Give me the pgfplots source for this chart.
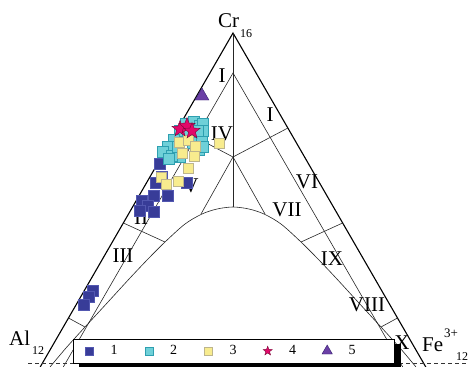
\documentclass[border=0pt]{standalone}
\usepackage{pgfplots}
\pgfplotsset{compat=1.18}
\usepackage{fontspec}
\setmainfont{Liberation Serif}

\definecolor{s1}{HTML}{383C98}
\definecolor{s1e}{HTML}{5257B0}
\definecolor{s2}{HTML}{6FD0D8}
\definecolor{s2e}{HTML}{2E9FB0}
\definecolor{s3}{HTML}{F8EC8E}
\definecolor{s3e}{HTML}{BDB58C}
\definecolor{s4}{HTML}{E2086A}
\definecolor{s4e}{HTML}{7A0838}
\definecolor{s5}{HTML}{6B40A6}
\definecolor{s5e}{HTML}{34206E}
\definecolor{ln}{HTML}{262626}

% filled five-pointed star
\pgfdeclareplotmark{fstar}{%
  \pgfpathmoveto{\pgfpointpolar{90}{\pgfplotmarksize}}%
  \pgfpathlineto{\pgfpointpolar{126}{0.42\pgfplotmarksize}}%
  \pgfpathlineto{\pgfpointpolar{162}{\pgfplotmarksize}}%
  \pgfpathlineto{\pgfpointpolar{198}{0.42\pgfplotmarksize}}%
  \pgfpathlineto{\pgfpointpolar{234}{\pgfplotmarksize}}%
  \pgfpathlineto{\pgfpointpolar{270}{0.42\pgfplotmarksize}}%
  \pgfpathlineto{\pgfpointpolar{306}{\pgfplotmarksize}}%
  \pgfpathlineto{\pgfpointpolar{342}{0.42\pgfplotmarksize}}%
  \pgfpathlineto{\pgfpointpolar{18}{\pgfplotmarksize}}%
  \pgfpathlineto{\pgfpointpolar{54}{0.42\pgfplotmarksize}}%
  \pgfpathclose
  \pgfusepathqfillstroke}

\newcommand\lab{\fontsize{21}{21}\selectfont}
\newcommand\sub{\fontsize{12}{12}\selectfont}

\begin{document}
\begin{tikzpicture}
\useasboundingbox (0,0) rectangle (469pt,367pt);
\begin{axis}[
  x=1pt, y=1pt, xmin=0, xmax=469, ymin=0, ymax=367, y dir=reverse,
  axis lines=none, clip=false,
  legend style={at={(axis cs:78,351)}, anchor=west, draw=none, fill=none,
    legend columns=-1, inner xsep=0pt, inner ysep=0pt,
    font=\fontsize{14}{14}\selectfont,
    /tikz/every even column/.append style={column sep=18pt}},
  legend image code/.code={\path[draw=none, fill=none] (-11pt,-4pt) rectangle (19.5pt,4pt);
    \draw[#1] plot coordinates {(0pt,0pt)};},
]

% ---- triangle frame ----
\addplot[forget plot, black, line width=1.1pt] coordinates {(40.2,367) (233,33) (425.8,367)};
% ---- field boundaries ----
\addplot[forget plot, ln, line width=0.6pt] coordinates {(233,33) (233,207)};
\addplot[forget plot, ln, line width=0.6pt] coordinates {(63.3,367) (233,73) (402.7,367)};
\addplot[forget plot, ln, line width=0.6pt] coordinates {(178.1,128) (233,157) (287.9,128)};
\addplot[forget plot, ln, line width=0.6pt] coordinates {(201,214) (233,157) (265,214)};
\addplot[forget plot, ln, line width=0.6pt] coordinates {(123.4,223) (165,242)};
\addplot[forget plot, ln, line width=0.6pt] coordinates {(342.6,223) (301,242)};
\addplot[forget plot, ln, line width=0.6pt] coordinates {(68.5,318) (85,327)};
\addplot[forget plot, ln, line width=0.6pt] coordinates {(397.5,318) (381,327)};
\addplot[forget plot, ln, line width=0.6pt, smooth] coordinates {
  (50,367) (66,348) (85,327) (108,302) (130,278) (148,259) (165,242)
  (185,224) (202,214) (217,209) (233,207) (249,209) (264,214) (281,224)
  (301,242) (318,259) (336,278) (358,302) (381,327) (400,348) (416,367)};

% ---- analyses ----
\addplot[only marks, mark=square*, mark size=5.5pt, fill=s1, draw=s1e, line width=0.4pt,
  legend image post style={mark size=4pt}] coordinates {
  (93,291) (89,297) (84,305) (163,157) (160,164) (162,177) (156,183) (154,196) (168,196)
  (142,201) (148,206) (140,211) (154,212) (187,183)};
\addlegendentry{1}
\addplot[only marks, mark=square*, mark size=5.5pt, fill=s2, draw=s2e, line width=0.4pt,
  legend image post style={mark size=4pt}] coordinates {
  (186,124) (194,122) (200,126) (203,124) (180,131) (174,140) (168,147) (163,152)
  (193,143) (199,150) (202,138) (180,157) (172,156) (203,147) (188,133) (203,131)
  (178,147) (169,159) (198,131)};
\addlegendentry{2}
\addplot[only marks, mark=square*, mark size=5pt, fill=s3, draw=s3e, line width=0.4pt,
  legend image post style={mark size=4pt}] coordinates {
  (179,142) (188,140) (195,146) (182,153) (194,156) (188,168) (219,143)
  (161,177) (166,184) (178,181)};
\addlegendentry{3}
\addplot[only marks, mark=fstar, mark size=8.5pt, fill=s4, draw=s4e, line width=0.4pt,
  legend image post style={mark size=4.8pt}] coordinates {
  (180,129) (187,126) (192,131)};
\addlegendentry{4}
\addplot[only marks, mark=triangle*, mark size=8pt, fill=s5, draw=s5e, line width=0.4pt,
  legend image post style={mark size=6pt}] coordinates {(202,96)};
\addlegendentry{5}

% ---- field numbers ----
\node[font=\lab, inner sep=0] at (axis cs:222,76) {I};
\node[font=\lab, inner sep=0] at (axis cs:270,115) {I};
\node[font=\lab, inner sep=0] at (axis cs:222,134) {IV};
\node[font=\lab, inner sep=0] at (axis cs:191,186) {V};
\node[font=\lab, inner sep=0] at (axis cs:307,182) {VI};
\node[font=\lab, inner sep=0] at (axis cs:287,210) {VII};
\node[font=\lab, inner sep=0] at (axis cs:141,218) {II};
\node[font=\lab, inner sep=0] at (axis cs:123,256) {III};
\node[font=\lab, inner sep=0] at (axis cs:332,259) {IX};
\node[font=\lab, inner sep=0] at (axis cs:367,305) {VIII};

% ---- apex labels ----
\node[anchor=base west, inner sep=0, font=\lab] at (axis cs:218,27) {Cr};
\node[anchor=base west, inner sep=0, font=\sub] at (axis cs:240,37) {16};
\node[anchor=base west, inner sep=0, font=\lab] at (axis cs:9,345) {Al};
\node[anchor=base west, inner sep=0, font=\sub] at (axis cs:32,354) {12};
\node[anchor=base west, inner sep=0, font=\lab] at (axis cs:422,351) {Fe};
\node[anchor=base west, inner sep=0, font=\fontsize{13}{13}\selectfont] at (axis cs:444,337) {3+};
\node[anchor=base west, inner sep=0, font=\sub] at (axis cs:456,360) {12};

% ---- base line and legend frame ----
\addplot[forget plot, black!80, line width=0.5pt, dash pattern=on 4pt off 3pt] coordinates {(28,363) (469,363)};
\fill[black] (axis cs:79,344) rectangle (axis cs:401,367);
\filldraw[fill=white, draw=black, line width=0.6pt] (axis cs:73,339) rectangle (axis cs:394,363);
\node[font=\lab, inner sep=0] at (axis cs:402,343) {X};
\end{axis}
\end{tikzpicture}
\end{document}
